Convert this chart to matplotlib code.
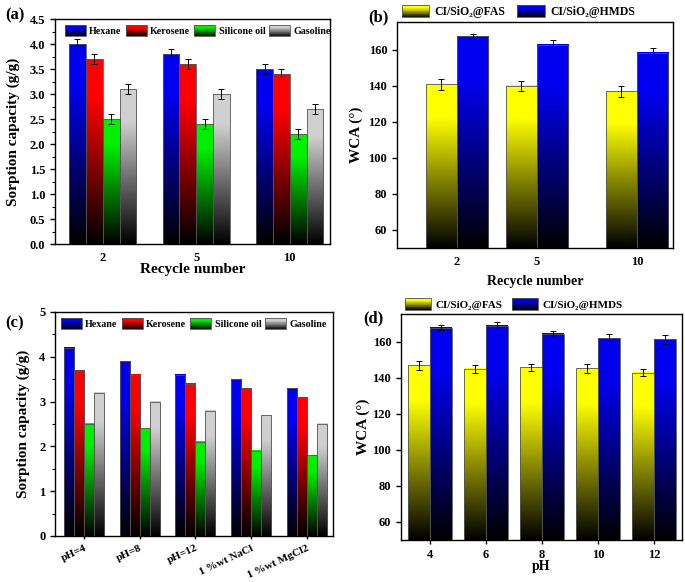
"""
Sorption capacity and water contact angle, four-panel bar figure.
"""

import matplotlib
matplotlib.use("Agg")
import matplotlib.pyplot as plt
import numpy as np
from matplotlib.colors import LinearSegmentedColormap, to_rgb
from matplotlib.legend_handler import HandlerBase
from matplotlib.patches import Rectangle

# ── DATA ──────────────────────────────────────────────────────────────────────
oils = ["Hexane", "Kerosene", "Silicone oil", "Gasoline"]

recycle_labels = ["2", "5", "10"]
a_hexane   = [4.0, 3.8, 3.5]
a_kerosene = [3.7, 3.6, 3.4]
a_silicone = [2.5, 2.4, 2.2]
a_gasoline = [3.1, 3.0, 2.7]
a_err      = [0.1, 0.1, 0.1]

b_fas      = [141.0, 140.0, 137.0]
b_fas_err  = [3.0, 3.0, 3.0]
b_hmds     = [167.5, 163.0, 158.5]
b_hmds_err = [1.5, 2.5, 2.5]

c_labels   = ["pH=4", "pH=8", "pH=12", "1 %wt NaCl", "1 %wt MgCl2"]
c_hexane   = [4.2, 3.9, 3.6, 3.5, 3.3]
c_kerosene = [3.7, 3.6, 3.4, 3.3, 3.1]
c_silicone = [2.5, 2.4, 2.1, 1.9, 1.8]
c_gasoline = [3.2, 3.0, 2.8, 2.7, 2.5]

ph_labels  = ["4", "6", "8", "10", "12"]
d_fas      = [147.0, 145.0, 146.0, 145.5, 143.0]
d_fas_err  = [2.5, 2.0, 2.0, 2.5, 2.0]
d_hmds     = [168.0, 169.0, 164.5, 162.0, 161.5]
d_hmds_err = [1.5, 2.0, 1.5, 2.5, 2.5]

series_names = ["CI/SiO₂@FAS", "CI/SiO₂@HMDS"]

# ── STYLE ─────────────────────────────────────────────────────────────────────
OIL_COLORS = ["#0000F0", "#FF0000", "#00F000", "#D0D0D0"]
WCA_COLORS = ["#FFFF00", "#0000F0"]
EDGE = "#555555"
W, H = 685, 582

plt.rcParams["font.family"] = ["Liberation Serif", "DejaVu Serif"]
plt.rcParams["font.weight"] = "bold"
plt.rcParams["axes.linewidth"] = 1.0


def cmap_for(color):
    return LinearSegmentedColormap.from_list(
        "g", [(0, "black"), (0.8, to_rgb(color)), (1, to_rgb(color))])


def grad_bar(ax, x, top, width, bottom, color):
    grad = np.linspace(0, 1, 128).reshape(-1, 1)
    ax.imshow(grad, extent=(x - width / 2, x + width / 2, bottom, top),
              origin="lower", aspect="auto", cmap=cmap_for(color), zorder=2)
    ax.bar(x, top - bottom, width, bottom=bottom, fill=False,
           edgecolor=EDGE, linewidth=0.6, zorder=3)


class GradHandler(HandlerBase):
    def __init__(self, color):
        super().__init__()
        self.color = color

    def create_artists(self, legend, orig, xd, yd, width, height, fontsize, trans):
        cmap = cmap_for(self.color)
        n = 16
        x0, y0 = -xd, -yd
        arts = []
        for i in range(n):
            r = Rectangle((x0, y0 + height * i / n), width, height / n * 1.05,
                          facecolor=cmap((i + 0.5) / n), edgecolor="none",
                          transform=trans)
            arts.append(r)
        arts.append(Rectangle((x0, y0), width, height, fill=False,
                              edgecolor=EDGE, linewidth=0.6, transform=trans))
        return arts


def px_axes(l, t, r, b):
    return [l / W, 1 - b / H, (r - l) / W, (b - t) / H]


def style(ax, xlim, ylim):
    ax.set_xlim(*xlim)
    ax.set_ylim(*ylim)
    ax.tick_params(direction="out", labelsize=9, width=1.0, length=3.5)
    ax.tick_params(which="minor", direction="out", length=2, width=0.8)
    for lab in ax.get_xticklabels() + ax.get_yticklabels():
        lab.set_fontweight("bold")


def legend(ax, colors, names, size, **kw):
    handles = [Rectangle((0, 0), 1, 1) for _ in names]
    hmap = {h: GradHandler(c) for h, c in zip(handles, colors)}
    ax.legend(handles, names, handler_map=hmap, frameon=False,
              ncol=len(names), prop={"weight": "bold", "size": size}, **kw)


def fig_text(x, y, s, size=12):
    fig.text(x / W, 1 - y / H, s, fontsize=size, fontweight="bold",
             ha="center", va="center")


fig = plt.figure(figsize=(W / 100, H / 100), dpi=100)

# ── (a) sorption capacity vs recycle ─────────────────────────────────────────
ax = fig.add_axes(px_axes(55, 19, 330, 244))
xa = np.arange(len(recycle_labels))
bw = 0.18
for i, (vals, col) in enumerate(zip([a_hexane, a_kerosene, a_silicone, a_gasoline], OIL_COLORS)):
    xs = xa + (i - 1.5) * bw
    for x, v in zip(xs, vals):
        grad_bar(ax, x, v, bw, 0, col)
    ax.errorbar(xs, vals, yerr=a_err, fmt="none", ecolor="black",
                elinewidth=0.7, capsize=2, capthick=0.7, zorder=4)
style(ax, (-0.51, 2.43), (0, 4.5))
ax.set_yticks(np.arange(0, 4.51, 0.5))
ax.set_yticks(np.arange(0, 4.5, 0.25), minor=True)
ax.set_yticklabels([f"{v:.1f}" for v in np.arange(0, 4.51, 0.5)], fontweight="bold")
ax.set_xticks(xa)
ax.set_xticklabels(recycle_labels, fontweight="bold")
ax.tick_params(axis="x", length=0, pad=6)
ax.set_xlabel("Recycle number", fontsize=11, fontweight="bold", labelpad=-1)
ax.set_ylabel("Sorption capacity (g/g)", fontsize=11, fontweight="bold")
ax.yaxis.set_label_coords((20 - 55) / 275, 0.5)
legend(ax, OIL_COLORS, oils, 7.2, loc="upper center", bbox_to_anchor=(0.52, 0.99),
       handlelength=2.1, handleheight=1.35, columnspacing=0.4, handletextpad=0.35,
       borderaxespad=0)
fig_text(15, 15, "(a)")

# ── (b) WCA vs recycle ───────────────────────────────────────────────────────
ax = fig.add_axes(px_axes(397, 22, 673, 248))
xb = np.array([0, 1, 2.25])
bw = 0.39
for i, (vals, errs, col) in enumerate(zip([b_fas, b_hmds], [b_fas_err, b_hmds_err], WCA_COLORS)):
    xs = xb + (i - 0.5) * bw
    for x, v in zip(xs, vals):
        grad_bar(ax, x, v, bw, 50, col)
    ax.errorbar(xs, vals, yerr=errs, fmt="none", ecolor="black",
                elinewidth=0.7, capsize=2, capthick=0.7, zorder=4)
style(ax, (-0.75, 2.7), (50, 175.5))
ax.set_yticks(np.arange(60, 161, 20))
ax.set_xticks(xb)
ax.set_xticklabels(recycle_labels, fontweight="bold")
ax.tick_params(axis="x", length=0, pad=6)
ax.set_xlabel("Recycle number", fontsize=10, fontweight="bold", labelpad=5)
ax.set_ylabel("WCA (°)", fontsize=11, fontweight="bold")
ax.yaxis.set_label_coords((363 - 397) / 276, 0.5)
legend(ax, WCA_COLORS, series_names, 8.5, loc="lower left", bbox_to_anchor=(0.0, 0.995),
       handlelength=2.3, handleheight=1.2, columnspacing=1.0, handletextpad=0.5,
       borderaxespad=0)
fig_text(378, 17, "(b)")

# ── (c) sorption capacity vs medium ──────────────────────────────────────────
ax = fig.add_axes(px_axes(55, 312, 333, 536))
xc = np.arange(len(c_labels))
bw = 0.18
for i, (vals, col) in enumerate(zip([c_hexane, c_kerosene, c_silicone, c_gasoline], OIL_COLORS)):
    xs = xc + (i - 1.5) * bw
    for x, v in zip(xs, vals):
        grad_bar(ax, x, v, bw, 0, col)
style(ax, (-0.52, 4.47), (0, 5))
ax.set_yticks(np.arange(0, 6, 1))
ax.set_yticks(np.arange(0, 5, 0.5), minor=True)
ax.set_xticks(xc)
ax.set_xticklabels(c_labels, rotation=25, ha="right", va="top",
                   rotation_mode="anchor", fontweight="bold", fontsize=8)
ax.tick_params(axis="x", length=2.5, pad=3)
ax.set_ylabel("Sorption capacity (g/g)", fontsize=11, fontweight="bold")
ax.yaxis.set_label_coords((30 - 55) / 278, 0.5)
legend(ax, OIL_COLORS, oils, 7.2, loc="upper center", bbox_to_anchor=(0.5, 0.99),
       handlelength=2.1, handleheight=1.35, columnspacing=0.4, handletextpad=0.35,
       borderaxespad=0)
fig_text(15, 323, "(c)")

# ── (d) WCA vs pH ────────────────────────────────────────────────────────────
ax = fig.add_axes(px_axes(401, 314, 682, 540))
xd = np.arange(len(ph_labels))
bw = 0.39
for i, (vals, errs, col) in enumerate(zip([d_fas, d_hmds], [d_fas_err, d_hmds_err], WCA_COLORS)):
    xs = xd + (i - 0.5) * bw
    for x, v in zip(xs, vals):
        grad_bar(ax, x, v, bw, 50, col)
    ax.errorbar(xs, vals, yerr=errs, fmt="none", ecolor="black",
                elinewidth=0.7, capsize=2, capthick=0.7, zorder=4)
style(ax, (-0.52, 4.5), (50, 175.5))
ax.set_yticks(np.arange(60, 161, 20))
ax.set_xticks(xd)
ax.set_xticklabels(ph_labels, fontweight="bold")
ax.tick_params(axis="x", length=3)
ax.set_xlabel("pH", fontsize=10, fontweight="bold", labelpad=-1)
ax.set_ylabel("WCA (°)", fontsize=11, fontweight="bold")
ax.yaxis.set_label_coords((370 - 401) / 281, 0.5)
legend(ax, WCA_COLORS, series_names, 8, loc="lower left", bbox_to_anchor=(0.0, 1.0),
       handlelength=2.3, handleheight=1.2, columnspacing=0.9, handletextpad=0.4,
       borderaxespad=0)
fig_text(373, 318, "(d)")

fig.savefig("out.png", dpi=100)
